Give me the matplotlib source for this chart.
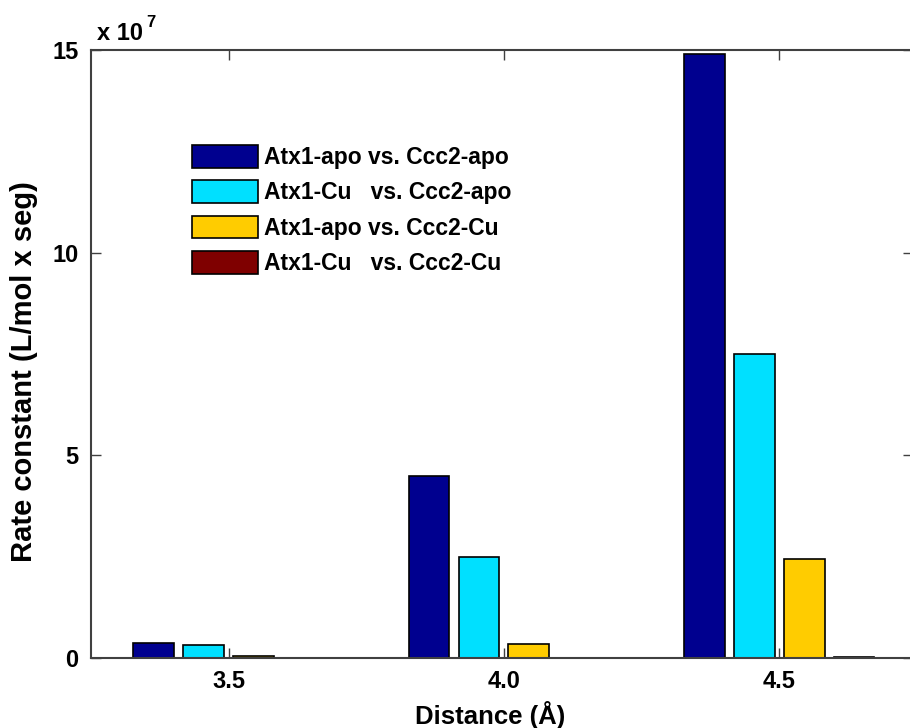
"""Grouped bar chart of rate constants vs. distance."""

import matplotlib

matplotlib.use("Agg")
import matplotlib.pyplot as plt
import numpy as np

plt.rcParams["font.family"] = ["Liberation Sans", "DejaVu Sans"]
plt.rcParams["font.weight"] = "bold"

# Data (rate constants in units of 1e7 L/mol x seg)
distances = ["3.5", "4.0", "4.5"]
series_labels = [
    "Atx1-apo vs. Ccc2-apo",
    "Atx1-Cu   vs. Ccc2-apo",
    "Atx1-apo vs. Ccc2-Cu",
    "Atx1-Cu   vs. Ccc2-Cu",
]
apo_apo = [0.38, 4.5, 14.9]
cu_apo = [0.31, 2.48, 7.51]
apo_cu = [0.04, 0.35, 2.45]
cu_cu = [0.0, 0.0, 0.03]
series_values = [apo_apo, cu_apo, apo_cu, cu_cu]
colors = ["#00008F", "#00E0FF", "#FFCC00", "#7F0000"]

W, H = 910, 728
fig = plt.figure(figsize=(W / 100, H / 100), dpi=100)
ax = fig.add_axes([91 / W, 1 - 658 / H, (913 - 91) / W, (658 - 50) / H])

x = np.arange(1, len(distances) + 1)
offsets = [-0.272, -0.0906, 0.0906, 0.272]
width = 0.148
for vals, off, col, lab in zip(series_values, offsets, colors, series_labels):
    ax.bar(x + off, vals, width, color=col, edgecolor="black", linewidth=1.2, label=lab)

ax.set_xlim(0.5, 3.486)
ax.set_ylim(0, 15)
ax.set_xticks(x)
ax.set_xticklabels(distances)
ax.set_yticks([0, 5, 10, 15])
ax.tick_params(
    direction="in", length=7, width=1.0, color="#404040",
    top=True, right=True, labelsize=17,
)
ax.tick_params(axis="x", pad=9)
ax.tick_params(axis="y", pad=9)
for lbl in ax.get_xticklabels() + ax.get_yticklabels():
    lbl.set_fontweight("bold")
for sp in ax.spines.values():
    sp.set_color("#404040")
    sp.set_linewidth(1.5)

ax.set_xlabel("Distance (Å)", fontsize=18.5, fontweight="bold")
ax.xaxis.set_label_coords((490 - 91) / 822, (658 - 701) / 608)
ax.set_ylabel("Rate constant (L/mol x seg)", fontsize=21, fontweight="bold")
ax.yaxis.set_label_coords((38 - 91) / 822, (658 - 372) / 608)

# exponent label like MATLAB
fig.text(97 / W, 1 - 40 / H, "x 10", fontsize=17, fontweight="bold")
fig.text(146 / W, 1 - 27 / H, "7", fontsize=12, fontweight="bold")

ax.legend(
    loc="upper left",
    bbox_to_anchor=(192 / W, 1 - 145 / H),
    bbox_transform=fig.transFigure,
    frameon=False,
    handlelength=2.88,
    handleheight=1.15,
    handletextpad=0.27,
    labelspacing=0.49,
    borderpad=0,
    borderaxespad=0,
    prop={"weight": "bold", "size": 16.5},
)

fig.savefig("out.png", dpi=100)
